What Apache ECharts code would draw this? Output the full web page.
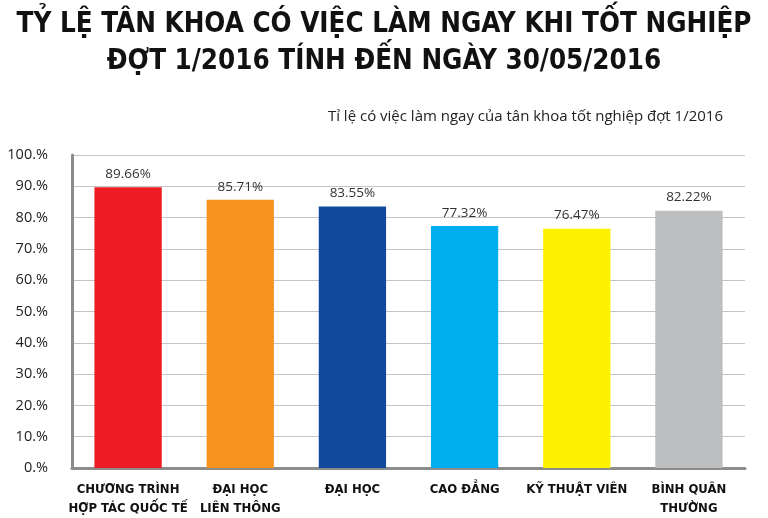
<!DOCTYPE html>
<html>
<head>
<meta charset="utf-8">
<script src="https://cdn.jsdelivr.net/npm/echarts@6/dist/echarts.min.js"></script>
<style>
  html, body { margin: 0; padding: 0; background: #fff; }
  #chart { width: 768px; height: 518px; }
</style>
</head>
<body>
<div id="chart"></div>
<script>
// du lieu
const nhom = ['CHƯƠNG TRÌNH\nHỢP TÁC QUỐC TẾ', 'ĐẠI HỌC\nLIÊN THÔNG', 'ĐẠI HỌC', 'CAO ĐẲNG', 'KỸ THUẬT VIÊN', 'BÌNH QUÂN\nTHƯỜNG'];
const tiLe = [89.66, 85.71, 83.55, 77.32, 76.47, 82.22];
const mauCot = ['#ED1C24', '#F7941D', '#114A9C', '#00AEEF', '#FFF200', '#BCBEC0'];
const nhanTrucY = ['0.%', '10.%', '20.%', '30.%', '40.%', '50.%', '60.%', '70.%', '80.%', '90.%', '100.%'];

const fontHep = '"DejaVu Sans Condensed", "Liberation Sans Narrow", sans-serif';
const chart = echarts.init(document.getElementById('chart'));

chart.setOption({
    backgroundColor: '#fff',
    title: [{
        text: 'TỶ LỆ TÂN KHOA CÓ VIỆC LÀM NGAY KHI TỐT NGHIỆP\nĐỢT 1/2016 TÍNH ĐẾN NGÀY 30/05/2016',
        left: 'center',
        top: 1,
        textStyle: {
            fontFamily: fontHep,
            fontWeight: 'bold',
            fontSize: 27.5,
            lineHeight: 37,
            color: '#111'
        }
    }, {
        text: 'Tỉ lệ có việc làm ngay của tân khoa tốt nghiệp đợt 1/2016',
        right: 40,
        top: 104,
        textStyle: {
            fontFamily: '"Open Sans", sans-serif',
            fontWeight: 'normal',
            fontSize: 15,
            color: '#222'
        }
    }],
    grid: { left: 72, right: 23, top: 155, bottom: 45 },
    xAxis: {
        type: 'category',
        data: nhom,
        axisLine: { lineStyle: { color: '#8c8c8c', width: 3 } },
        axisTick: { show: false },
        axisLabel: {
            interval: 0,
            margin: 12,
            fontFamily: fontHep,
            fontWeight: 'bold',
            fontSize: 13,
            lineHeight: 19,
            color: '#111'
        }
    },
    yAxis: {
        type: 'value',
        min: 0,
        max: 100,
        interval: 10,
        axisLine: { show: true, lineStyle: { color: '#8c8c8c', width: 3 } },
        axisTick: { show: false },
        splitLine: { lineStyle: { color: '#c4c4c4', width: 1 } },
        axisLabel: {
            margin: 24,
            fontFamily: '"Open Sans", sans-serif',
            fontSize: 14.5,
            color: '#222',
            formatter: v => nhanTrucY[Math.round(v / 10)]
        }
    },
    series: [{
        type: 'bar',
        barWidth: '60%',
        data: tiLe.map((v, i) => ({ value: v, itemStyle: { color: mauCot[i] } })),
        label: {
            show: true,
            position: 'top',
            distance: 6,
            fontFamily: '"Open Sans", sans-serif',
            fontSize: 13.5,
            color: '#333',
            formatter: p => p.value.toFixed(2) + '%'
        }
    }]
});
</script>
</body>
</html>
